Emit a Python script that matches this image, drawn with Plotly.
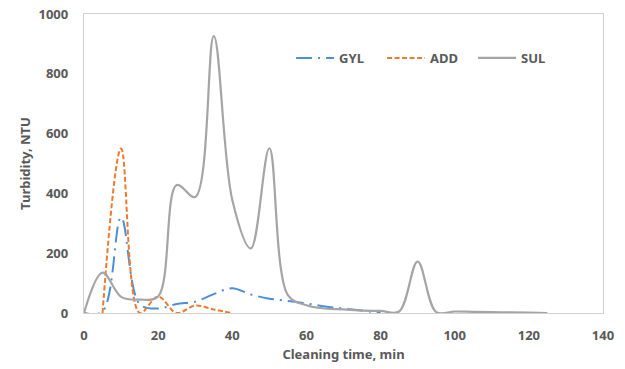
import plotly.graph_objects as go

sul_t = [0, 5, 10, 15, 20, 25, 30, 35, 40, 45, 50, 55, 60, 65, 70, 75, 80, 85, 90, 95, 100, 105, 110, 115, 120, 125]
sul_v = [0, 135, 54, 45, 55, 428, 388, 926, 378, 216, 551, 60, 26, 15, 12, 8, 7, 5, 172, 3, 5, 4, 3, 2, 1, 0]

gyl_t = [0, 5, 10, 15, 20, 25, 30, 35, 40, 45, 50, 55, 60, 65, 70, 75, 80]
gyl_v = [0, 5, 320, 30, 15, 30, 38, 63, 83, 62, 48, 40, 32, 22, 15, 8, 0]

add_t = [5, 10, 15, 20, 25, 30, 35, 40]
add_v = [0, 550, 0, 55, 0, 25, 12, 0]

x_ticks = [0, 20, 40, 60, 80, 100, 120, 140]
y_ticks = [0, 200, 400, 600, 800, 1000]

txt = "#595959"
font_family = "Noto Sans"

fig = go.Figure()
fig.add_trace(go.Scatter(x=gyl_t, y=gyl_v, name="GYL", mode="lines",
                         line=dict(color="#4a90d9", width=2, dash="16px,6px,2px,6px", shape="spline", smoothing=1)))
fig.add_trace(go.Scatter(x=add_t, y=add_v, name="ADD", mode="lines",
                         line=dict(color="#f07a2c", width=2, dash="5px,2.5px", shape="spline", smoothing=1)))
fig.add_trace(go.Scatter(x=sul_t, y=sul_v, name="SUL", mode="lines",
                         line=dict(color="#a5a5a5", width=2.2, shape="spline", smoothing=1)))

fig.update_layout(
    width=625, height=369,
    margin=dict(l=84, r=22, t=14, b=56, autoexpand=False),
    paper_bgcolor="white", plot_bgcolor="white",
    font=dict(family=font_family, size=12, color=txt),
    showlegend=True,
    legend=dict(orientation="h", x=0.399, y=0.853, xanchor="left", yanchor="middle",
                font=dict(family=font_family, size=13, color=txt, weight="bold"),
                bgcolor="rgba(0,0,0,0)", itemwidth=38,
                entrywidth=38, entrywidthmode="pixels"),
)
fig.update_xaxes(range=[0, 140], tickvals=x_ticks, showgrid=False, zeroline=False,
                 showline=True, linecolor="#d0d0d0", linewidth=1.3, mirror=True,
                 ticks="", automargin=False, ticklabelstandoff=10,
                 tickfont=dict(family=font_family, size=13, color=txt, weight="bold"),
                 title=dict(text="Cleaning time, min", standoff=7,
                            font=dict(family=font_family, size=13, color=txt, weight="bold")))
fig.update_yaxes(range=[0, 1000], tickvals=y_ticks, showgrid=False, zeroline=False,
                 showline=True, linecolor="#d0d0d0", linewidth=1.3, mirror=True,
                 ticks="", ticklabelstandoff=12, automargin=False, ticklabeloverflow="allow",
                 tickfont=dict(family=font_family, size=13, color=txt, weight="bold"),
                 title=dict(text="Turbidity, NTU", standoff=4,
                            font=dict(family=font_family, size=13, color=txt, weight="bold")))

# remove the browser's default 8px body margin so the figure sits at the window's top-left corner
fig.write_html("out.html", config={"displayModeBar": False},
               post_script="document.body.style.margin='0';")
